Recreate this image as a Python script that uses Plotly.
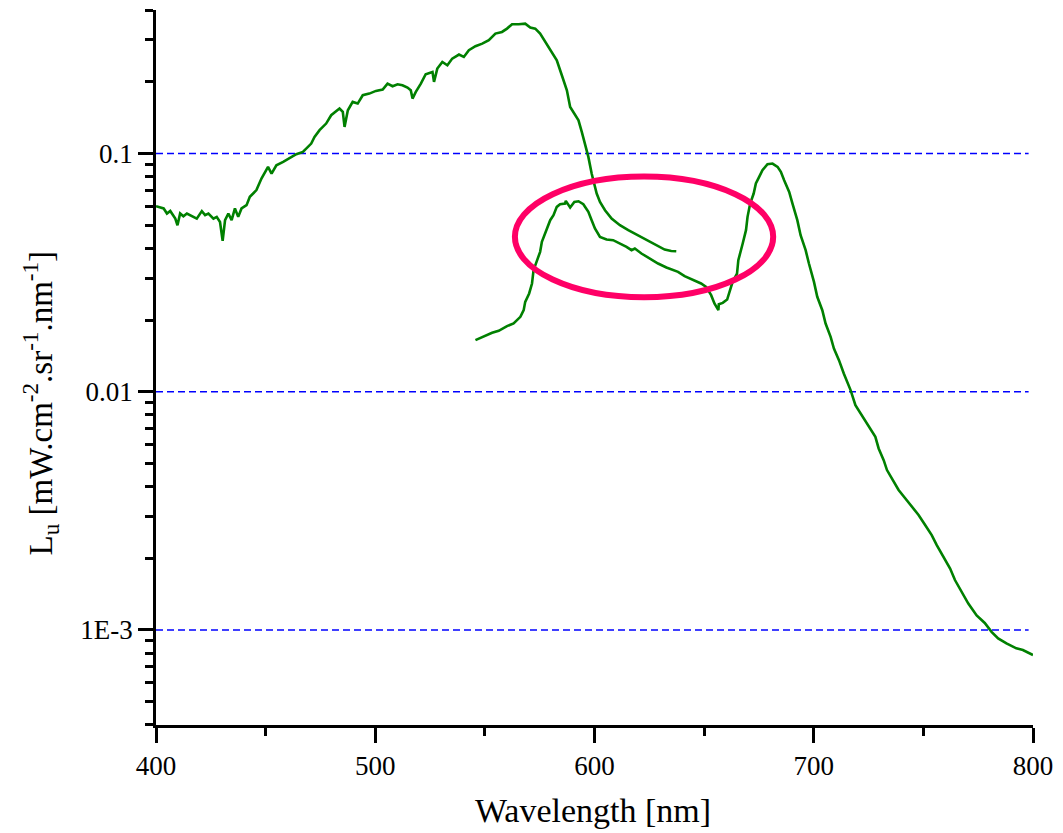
import plotly.graph_objects as go

# Upwelling radiance spectra, wavelength in nm and L_u in mW.cm-2.sr-1.nm-1
reflected_wl = [400.0, 403.5, 405.0, 406.5, 408.8, 409.8, 411.0, 412.5, 414.1, 415.6, 418.6, 420.9,
                422.4, 423.9, 426.2, 427.7, 429.2, 430.4, 431.5, 433.0, 434.5, 436.0, 437.5, 439.0,
                441.3, 442.8, 445.8, 448.1, 451.1, 452.7, 454.9, 458.0, 461.0, 464.0, 467.0, 468.5,
                470.8, 472.3, 474.6, 477.6, 479.9, 483.7, 485.2, 486.0, 487.5, 489.7, 492.0, 494.3,
                497.3, 500.3, 503.4, 505.6, 507.9, 510.2, 512.4, 514.7, 516.2, 517.0, 518.5, 520.8,
                523.0, 526.1, 526.8, 528.3, 530.6, 532.9, 535.1, 538.2, 540.4, 542.7, 545.7, 548.8,
                551.8, 554.8, 557.8, 560.1, 562.4, 565.4, 568.4, 570.7, 573.0, 575.2, 577.5, 580.5,
                582.8, 585.1, 587.4, 588.9, 590.4, 592.7, 594.2, 595.7, 597.2, 598.7, 601.0, 602.5,
                604.8, 607.8, 611.6, 615.4, 618.4, 622.9, 627.5, 632.0, 635.0, 637.3]
reflected_L = [0.0601, 0.0588, 0.0560, 0.0574, 0.0533, 0.0500, 0.0560, 0.0545, 0.0560, 0.0551, 0.0533, 0.0573,
               0.0551, 0.0560, 0.0533, 0.0542, 0.0516, 0.0430, 0.0525, 0.0560, 0.0525, 0.0588, 0.0542, 0.0588,
               0.0607, 0.0658, 0.0702, 0.0785, 0.0879, 0.0824, 0.0893, 0.0922, 0.0953, 0.0993, 0.1016, 0.1049,
               0.1101, 0.1174, 0.1253, 0.1336, 0.1448, 0.1544, 0.1495, 0.1293, 0.1519, 0.1647, 0.1621, 0.1757,
               0.1785, 0.1832, 0.1855, 0.1966, 0.1916, 0.1953, 0.1934, 0.1891, 0.1843, 0.1701, 0.1814, 0.1966,
               0.2152, 0.2201, 0.1998, 0.2273, 0.2424, 0.2347, 0.2503, 0.2602, 0.2544, 0.2714, 0.2821, 0.2894,
               0.2988, 0.3187, 0.3239, 0.3345, 0.3488, 0.3488, 0.3510, 0.3377, 0.3345, 0.3187, 0.2940, 0.2670,
               0.2463, 0.2131, 0.1843, 0.1569, 0.1495, 0.1379, 0.1232, 0.1101, 0.0968, 0.0824, 0.0679, 0.0626,
               0.0578, 0.0533, 0.0500, 0.0477, 0.0461, 0.0440, 0.0416, 0.0395, 0.0390, 0.0389]

emission_wl = [545.7, 549.5, 553.3, 556.3, 560.1, 563.1, 566.2, 567.7, 568.4, 570.2, 571.5, 572.2,
               573.7, 575.2, 576.0, 577.5, 579.8, 581.3, 582.8, 584.3, 586.6, 586.9, 588.9, 590.8,
               592.7, 594.9, 597.2, 598.7, 600.2, 602.5, 605.5, 608.5, 611.6, 614.6, 616.9, 618.4,
               621.4, 625.2, 629.0, 632.8, 636.5, 638.1, 641.1, 645.6, 648.6, 650.9, 653.2, 654.7,
               656.5, 656.7, 658.5, 660.5, 661.5, 663.0, 665.0, 665.6, 667.6, 669.1, 669.8, 671.0,
               672.6, 673.6, 675.1, 676.6, 678.9, 681.2, 683.5, 685.0, 686.5, 688.8, 690.3, 692.5,
               694.0, 696.3, 697.8, 700.1, 701.6, 703.9, 705.4, 707.7, 709.2, 711.5, 713.7, 716.8,
               719.0, 720.5, 722.8, 725.1, 728.1, 729.6, 731.9, 733.4, 736.4, 738.7, 741.7, 744.8,
               747.8, 750.8, 753.8, 756.1, 759.1, 762.2, 764.4, 767.5, 770.5, 774.3, 778.0, 781.1,
               784.1, 787.9, 792.4, 795.4, 800.0]
emission_L = [0.01647, 0.01711, 0.01767, 0.01802, 0.01885, 0.01934, 0.02063, 0.02200, 0.02384, 0.02585,
              0.02847, 0.03238, 0.03566, 0.03866, 0.04257, 0.04614, 0.05250, 0.05510, 0.05970, 0.06125,
              0.06165, 0.06326, 0.05932, 0.06265, 0.06305, 0.06125, 0.05690, 0.05250, 0.04844, 0.04467,
              0.04355, 0.04327, 0.04190, 0.04057, 0.03928, 0.03992, 0.03804, 0.03624, 0.03453, 0.03323,
              0.03218, 0.03187, 0.03055, 0.02939, 0.02847, 0.02757, 0.02543, 0.02347, 0.02200, 0.02331,
              0.02361, 0.02438, 0.02626, 0.02892, 0.03135, 0.03566, 0.04190, 0.04767, 0.05421, 0.06165,
              0.06792, 0.07482, 0.07976, 0.08510, 0.09018, 0.09076, 0.08788, 0.08375, 0.07727, 0.06903,
              0.06165, 0.05250, 0.04542, 0.03928, 0.03453, 0.02892, 0.02503, 0.02200, 0.01934, 0.01700,
              0.01519, 0.01357, 0.01193, 0.01016, 0.00879, 0.00837, 0.00772, 0.00713, 0.00647, 0.00578,
              0.00516, 0.00469, 0.00419, 0.00387, 0.00357, 0.00329, 0.00304, 0.00276, 0.00250, 0.00227,
              0.00203, 0.00181, 0.00162, 0.00145, 0.00129, 0.00115, 0.00107, 0.000982, 0.000921, 0.000878,
              0.000837, 0.000824, 0.000785]

# Axis ticks
x_major = [400, 500, 600, 700, 800]
y_major = [0.001, 0.01, 0.1]
y_major_text = ["1E-3", "0.01", "0.1"]

# Highlighted overlap region (wavelength span, radiance span)
ring_wl = (563.7, 681.5)
ring_L = (0.02493, 0.0801)

FONT = "Liberation Serif"
LINE = "#008000"
GRID = "#0000FF"

y_minor = [m * 10.0 ** e for e in (-4, -3, -2, -1) for m in range(2, 10)]
y_minor = [v for v in y_minor if 3.9e-4 <= v <= 0.41]

fig = go.Figure()

# Dashed reference lines at each decade, drawn under the spectra
for v in y_major:
    fig.add_shape(type="line", xref="paper", yref="y", x0=0, x1=0.995, y0=v, y1=v,
                  line=dict(color=GRID, width=1.5, dash="7px,4px"), layer="below")

fig.add_trace(go.Scatter(x=reflected_wl, y=reflected_L, mode="lines",
                         line=dict(color=LINE, width=2.6), name="reflected"))
fig.add_trace(go.Scatter(x=emission_wl, y=emission_L, mode="lines",
                         line=dict(color=LINE, width=2.6), name="emission"))

fig.add_shape(type="circle", xref="x", yref="y",
              x0=ring_wl[0], x1=ring_wl[1], y0=ring_L[0], y1=ring_L[1],
              line=dict(color="#FF0066", width=6))

fig.update_layout(
    width=1063, height=833,
    margin=dict(l=156, r=26, t=10, b=108),
    paper_bgcolor="white", plot_bgcolor="white",
    showlegend=False,
    font=dict(family=FONT, color="black"),
)

fig.update_xaxes(
    range=[400, 800], tickvals=x_major, ticks="outside", ticklen=15, tickwidth=2.5,
    tickcolor="black", showline=True, linecolor="black", linewidth=2.5,
    showgrid=False, zeroline=False, tickfont=dict(family=FONT, size=27),
    minor=dict(tickvals=[450, 550, 650, 750], ticks="outside", ticklen=8, tickwidth=2.5,
               tickcolor="black", showgrid=False),
)
fig.update_yaxes(
    type="log", range=[-3.3990, -0.3975], tickvals=y_major, ticktext=y_major_text,
    ticks="outside", ticklen=15, tickwidth=2.5, tickcolor="black",
    showline=True, linecolor="black", linewidth=2.5,
    showgrid=False, zeroline=False, tickfont=dict(family=FONT, size=27),
    minor=dict(tickvals=y_minor, ticks="outside", ticklen=8, tickwidth=2.5,
               tickcolor="black", showgrid=False),
)

fig.add_annotation(
    text="Wavelength [nm]", xref="paper", yref="paper", x=0.498, y=-0.119,
    xanchor="center", yanchor="middle", showarrow=False,
    font=dict(family=FONT, size=34, color="black"),
)
fig.add_annotation(
    text="L<sub>u</sub> [mW.cm<sup>-2</sup>.sr<sup>-1</sup>.nm<sup>-1</sup>]",
    xref="paper", yref="paper", x=-0.132, y=0.45, textangle=-90,
    xanchor="center", yanchor="middle", showarrow=False,
    font=dict(family=FONT, size=33, color="black"),
)

fig.write_html("out.html")
